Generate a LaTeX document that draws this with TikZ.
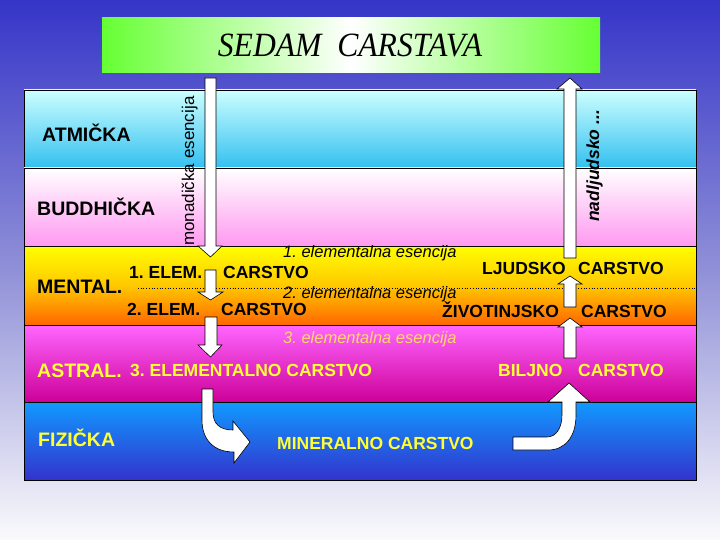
\documentclass[tikz,border=0pt]{standalone}
\usepackage{fontspec}
\setmainfont{Liberation Sans}
\newfontfamily\titlefont{Liberation Serif}
\frenchspacing
\definecolor{bgtop}{HTML}{3535C8}
\definecolor{bgmid}{HTML}{9090D8}
\definecolor{bgbot}{HTML}{FAFAFC}
\definecolor{ttgreen}{HTML}{66FF33}
\definecolor{atmtop}{HTML}{CCFFFF}
\definecolor{atmbot}{HTML}{33C0F0}
\definecolor{budbot}{HTML}{FF99F0}
\definecolor{mentop}{HTML}{FFFF00}
\definecolor{menmid}{HTML}{FFC800}
\definecolor{menbot}{HTML}{FF6600}
\definecolor{asttop}{HTML}{FF66FF}
\definecolor{astbot}{HTML}{CC0099}
\definecolor{fiztop}{HTML}{1199FF}
\definecolor{fizbot}{HTML}{3333CC}
\definecolor{ylw}{HTML}{FFFF33}
\definecolor{esyl}{HTML}{FFD966}
\begin{document}
\frenchspacing
\begin{tikzpicture}[x=1pt,y=-1pt,
  band/.style={draw=black,line width=0.7pt},
  barrow/.style={fill=white,draw=black,line width=0.6pt,line join=miter},
  bigl/.style={font=\fontsize{19.5}{20}\selectfont\bfseries,inner sep=0,anchor=base west},
  midl/.style={font=\fontsize{17.5}{18}\selectfont\bfseries,inner sep=0,anchor=base west},
  esen/.style={font=\fontsize{16.5}{17}\selectfont\itshape,inner sep=0,anchor=base west},
  vlab/.style={inner sep=0,anchor=base west,rotate=90}]
\useasboundingbox (0,0) rectangle (720,540);
% background
\shade[top color=bgtop,bottom color=bgbot,middle color=bgmid] (0,0) rectangle (720,540);
% title
\shade[left color=ttgreen,right color=ttgreen,middle color=white] (102,18) rectangle (600,73);
\node[inner sep=0,anchor=base,xscale=0.93,font=\titlefont\fontsize{34}{34}\selectfont\itshape] (title) at (350,57) {SEDAM\ \ CARSTAVA};
% bands
\shade[band,top color=atmtop,bottom color=atmbot] (24,90) rectangle (696,168);
\shade[band,top color=white,bottom color=budbot] (24,168) rectangle (696,246);
\shade[band,top color=mentop,bottom color=menbot,middle color=menmid] (24,246) rectangle (696,325);
\shade[band,top color=asttop,bottom color=astbot] (24,325) rectangle (696,402);
\shade[band,top color=fiztop,bottom color=fizbot] (24,402) rectangle (696,480);
\coordinate (dotL) at (138,288);
\coordinate (dotR) at (696,288);
\draw[black,dotted,line width=0.7pt] (dotL) -- (dotR);
% block arrows
\filldraw[barrow] (205,78) -- (216,78) -- (216,246) -- (222,246) -- (210.5,257) -- (198,246) -- (205,246) -- cycle;
\filldraw[barrow] (205,270) -- (216,270) -- (216,292) -- (223,292) -- (210.5,300) -- (198,292) -- (205,292) -- cycle;
\filldraw[barrow] (205,317) -- (217,317) -- (217,345) -- (222,345) -- (210.5,357) -- (198,345) -- (205,345) -- cycle;
\filldraw[barrow] (564,258) -- (576,258) -- (576,89) -- (582,89) -- (570,78) -- (557,89) -- (564,89) -- cycle;
\filldraw[barrow] (564,307) -- (576,307) -- (576,284) -- (582,284) -- (570,276) -- (558,284) -- (564,284) -- cycle;
\filldraw[barrow] (564,358) -- (576,358) -- (576,327) -- (582,327) -- (570,318) -- (558,327) -- (564,327) -- cycle;
\filldraw[barrow] (202,389) -- (213,389) -- (213,412) .. controls (213,424) and (220,430) .. (233,430) -- (233,421) -- (250,442) -- (234,463) -- (234,452) .. controls (214,452) and (202,440) .. (202,420) -- cycle;
\filldraw[barrow] (513,437) -- (547,437) .. controls (556,437) and (562,428) .. (562,415) -- (562,402) -- (548,402) -- (569,383) -- (590,402) -- (576,402) -- (576,415) .. controls (576,437) and (565,450) .. (548,450) -- (513,450) -- cycle;
% vertical labels
\node[vlab,font=\fontsize{17}{17}\selectfont] (mon) at (194,246) {monadička esencija};
\node[vlab,font=\fontsize{17.5}{18}\selectfont\bfseries\itshape] (nad) at (599,222) {nadljudsko ...};
% left labels
\node[bigl] (atm) at (42,142) {ATMIČKA};
\node[bigl] (bud) at (37,215) {BUDDHIČKA};
\node[bigl] (men) at (37,293) {MENTAL.};
\node[bigl,text=ylw] (ast) at (37,377) {ASTRAL.};
\node[bigl,text=ylw] (fiz) at (38,446) {FIZIČKA};
% mental labels
\node[midl] (e1) at (129,278) {1. ELEM.};
\node[midl] (c1) at (223,278) {CARSTVO};
\node[midl] (e2) at (127,315) {2. ELEM.};
\node[midl] (c2) at (221,315) {CARSTVO};
\node[esen] (es1) at (283,258) {1. elementalna esencija};
\node[esen] (es2) at (283,298) {2. elementalna esencija};
\node[esen,text=esyl] (es3) at (283,343) {3. elementalna esencija};
\node[midl] (lj) at (482,274) {LJUDSKO};
\node[midl] (ljc) at (578,274) {CARSTVO};
\node[midl] (zi) at (442,317) {ŽIVOTINJSKO};
\node[midl] (zic) at (581,317) {CARSTVO};
\node[midl,text=ylw] (e3) at (130,376) {3. ELEMENTALNO CARSTVO};
\node[midl,text=ylw] (bi) at (498,376) {BILJNO};
\node[midl,text=ylw] (bic) at (578,376) {CARSTVO};
\node[midl,text=ylw] (mi) at (277,449) {MINERALNO CARSTVO};
\end{tikzpicture}
\end{document}
